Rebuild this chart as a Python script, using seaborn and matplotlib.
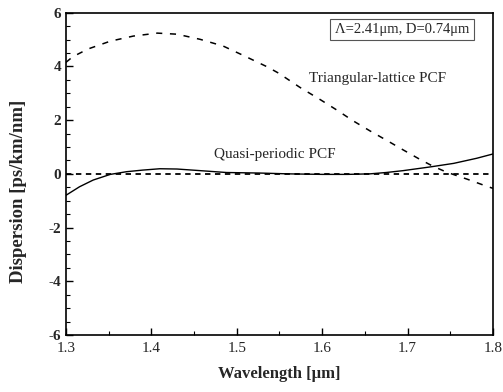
import numpy as np
import pandas as pd
import seaborn as sns
import matplotlib.pyplot as plt
from matplotlib.ticker import MultipleLocator

# values
tri_wl = [1.300, 1.308, 1.326, 1.352, 1.379, 1.407, 1.430, 1.457, 1.484, 1.507,
          1.536, 1.549, 1.574, 1.598, 1.617, 1.636, 1.656, 1.676, 1.695, 1.715,
          1.730, 1.746, 1.770, 1.789, 1.800]
tri_disp = [4.15, 4.36, 4.65, 4.94, 5.13, 5.24, 5.20, 5.01, 4.76, 4.42,
            3.98, 3.75, 3.22, 2.76, 2.38, 1.98, 1.60, 1.24, 0.89, 0.53,
            0.28, 0.06, -0.20, -0.42, -0.54]

quasi_wl = [1.300, 1.316, 1.332, 1.352, 1.371, 1.390, 1.410, 1.430, 1.457, 1.488,
            1.527, 1.560, 1.600, 1.630, 1.656, 1.675, 1.695, 1.727, 1.754, 1.781, 1.800]
quasi_disp = [-0.80, -0.48, -0.23, -0.02, 0.08, 0.14, 0.19, 0.18, 0.12, 0.05,
              0.03, 0.00, -0.02, -0.02, 0.00, 0.05, 0.12, 0.26, 0.39, 0.58, 0.74]

zero_wl = [1.3, 1.8]
zero_disp = [0.0, 0.0]

df = pd.concat([
    pd.DataFrame({'wl': tri_wl, 'D': tri_disp, 'fiber': 'Triangular-lattice PCF'}),
    pd.DataFrame({'wl': quasi_wl, 'D': quasi_disp, 'fiber': 'Quasi-periodic PCF'}),
    pd.DataFrame({'wl': zero_wl, 'D': zero_disp, 'fiber': 'zero'}),
])

sns.set_style('ticks')
plt.rcParams['font.family'] = ['Liberation Serif', 'DejaVu Serif']
plt.rcParams['axes.unicode_minus'] = False

fig = plt.figure(figsize=(5.03, 3.92), dpi=100)
ax = fig.add_axes([0.131, 0.1454, 0.849, 0.8222])

sns.lineplot(data=df[df.fiber == 'Triangular-lattice PCF'], x='wl', y='D', ax=ax,
             color='black', lw=1.1, linestyle=(0, (4, 5)))
sns.lineplot(data=df[df.fiber == 'Quasi-periodic PCF'], x='wl', y='D', ax=ax,
             color='black', lw=1.0)
sns.lineplot(data=df[df.fiber == 'zero'], x='wl', y='D', ax=ax,
             color='black', lw=1.3, linestyle=(0, (3, 2.5)))

ax.set_xlim(1.3, 1.8)
ax.set_ylim(-6, 6)
ax.xaxis.set_major_locator(MultipleLocator(0.1))
ax.xaxis.set_minor_locator(MultipleLocator(0.05))
ax.yaxis.set_major_locator(MultipleLocator(2))
ax.yaxis.set_minor_locator(MultipleLocator(0.5))
ax.tick_params(which='both', direction='in', top=False, right=False, color='black')
ax.tick_params(which='major', length=5, width=1)
ax.tick_params(which='minor', length=3, width=0.8)
ax.tick_params(axis='x', labelsize=11, pad=5)
ax.tick_params(axis='y', labelsize=11)
for lab in ax.get_yticklabels():
    lab.set_fontweight('bold')
for s in ax.spines.values():
    s.set_color('black')
    s.set_linewidth(1.2)

ax.set_xlabel('Wavelength [μm]', fontsize=12, fontweight='bold', labelpad=8)
ax.set_ylabel('Dispersion [ps/km/nm]', fontsize=13.5, fontweight='bold')
ax.yaxis.set_label_coords(-0.092, 0.445)

ax.text(1.665, 3.55, 'Triangular-lattice PCF', fontsize=11, ha='center', va='center')
ax.text(1.545, 0.73, 'Quasi-periodic PCF', fontsize=11, ha='center', va='center')
ax.text(0.787, 0.948, 'Λ=2.41μm, D=0.74μm', transform=ax.transAxes, fontsize=10.5,
        ha='center', va='center',
        bbox=dict(boxstyle='square,pad=0.3', facecolor='white', edgecolor='#555555', lw=0.8))

fig.savefig('out.png', dpi=100)
